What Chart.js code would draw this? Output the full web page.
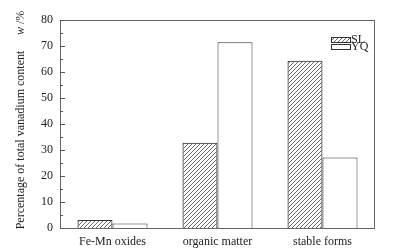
<!DOCTYPE html>
<html>
<head>
<meta charset="utf-8">
<script src="https://cdn.jsdelivr.net/npm/chart.js@4.4.0/dist/chart.umd.min.js"></script>
<style>
  html, body { margin: 0; padding: 0; background: #fff; }
  #wrap { width: 393px; height: 251px; }
</style>
</head>
<body>
<div id="wrap"><canvas id="vanadiumChart" width="393" height="251"></canvas></div>
<script>
// Data
const categories = ['Fe-Mn oxides', 'organic matter', 'stable forms'];
const slValues = [3.1, 32.8, 64.3];
const yqValues = [1.7, 71.4, 27.1];
const yTicks = [0, 10, 20, 30, 40, 50, 60, 70, 80];

const serif = '"Liberation Serif", "DejaVu Serif", serif';

// diagonal hatch for SL
function makeHatch() {
    const c = document.createElement('canvas');
    c.width = 4; c.height = 4;
    const g = c.getContext('2d');
    g.strokeStyle = '#444';
    g.lineWidth = 0.8;
    g.beginPath();
    g.moveTo(0, 4); g.lineTo(4, 0);
    g.moveTo(-1, 1); g.lineTo(1, -1);
    g.moveTo(3, 5); g.lineTo(5, 3);
    g.stroke();
    return g.createPattern(c, 'repeat');
}
const hatch = makeHatch();

// frame, inside ticks, axis title and legend
const decorations = {
    id: 'decorations',
    afterDraw(chart) {
        const ctx = chart.ctx;
        const a = chart.chartArea;
        const y = chart.scales.y;
        ctx.save();
        ctx.strokeStyle = '#666';
        ctx.lineWidth = 1;
        ctx.strokeRect(a.left + 0.5, a.top + 0.5, a.right - a.left - 1, a.bottom - a.top);

        // ticks pointing in
        ctx.strokeStyle = '#555';
        for (let v = 0; v <= 80; v += 5) {
            const py = Math.round(y.getPixelForValue(v)) + 0.5;
            const len = v % 10 === 0 ? 5 : 3;
            ctx.beginPath();
            ctx.moveTo(a.left, py);
            ctx.lineTo(a.left + len, py);
            ctx.stroke();
        }

        // y axis title
        ctx.fillStyle = '#222';
        ctx.translate(21, 0);
        ctx.rotate(-Math.PI / 2);
        ctx.textAlign = 'center';
        ctx.textBaseline = 'middle';
        ctx.font = '12px ' + serif;
        ctx.fillText('Percentage of total vanadium content', -140, 0);
        ctx.textAlign = 'left';
        ctx.font = 'italic 12px ' + serif;
        ctx.fillText('w', -35, 0);
        const ww = ctx.measureText('w').width;
        ctx.font = '12px ' + serif;
        ctx.fillText(' /%', -35 + ww, 0);
        ctx.restore();

        // legend
        ctx.save();
        const items = [
            { label: 'SL', fill: hatch, y: 37 },
            { label: 'YQ', fill: '#fff', y: 44 }
        ];
        ctx.font = '12px ' + serif;
        ctx.textBaseline = 'middle';
        items.forEach(function(it) {
            ctx.fillStyle = it.fill;
            ctx.fillRect(331, it.y, 20, 5);
            ctx.strokeStyle = '#333';
            ctx.strokeRect(331.5, it.y + 0.5, 19, 5);
            ctx.fillStyle = '#222';
            ctx.fillText(it.label, 351, it.y + 3);
        });
        ctx.restore();
    }
};

document.addEventListener('DOMContentLoaded', function() {
    const ctx = document.getElementById('vanadiumChart');
    new Chart(ctx, {
        type: 'bar',
        data: {
            labels: categories,
            datasets: [{
                label: 'SL',
                data: slValues,
                backgroundColor: hatch,
                borderColor: '#333',
                borderWidth: 1,
                categoryPercentage: 0.667,
                barPercentage: 1
            }, {
                label: 'YQ',
                data: yqValues,
                backgroundColor: '#fff',
                borderColor: '#333',
                borderWidth: 1,
                categoryPercentage: 0.667,
                barPercentage: 1
            }]
        },
        options: {
            responsive: false,
            animation: false,
            layout: { padding: { top: 20, right: 18, left: 0, bottom: 0 } },
            plugins: {
                legend: { display: false },
                tooltip: { enabled: false }
            },
            scales: {
                x: {
                    grid: { display: false, drawTicks: false },
                    border: { display: false },
                    ticks: {
                        color: '#222',
                        padding: 7,
                        font: { family: serif, size: 12 }
                    },
                    afterFit(s) { s.height = 23; }
                },
                y: {
                    min: 0,
                    max: 80,
                    afterBuildTicks(s) { s.ticks = yTicks.map(v => ({ value: v })); },
                    grid: { display: false, drawTicks: false },
                    border: { display: false },
                    ticks: {
                        color: '#222',
                        padding: 7,
                        font: { family: serif, size: 12 }
                    },
                    afterFit(s) { s.width = 60; }
                }
            }
        },
        plugins: [decorations]
    });
});
</script>
</body>
</html>
